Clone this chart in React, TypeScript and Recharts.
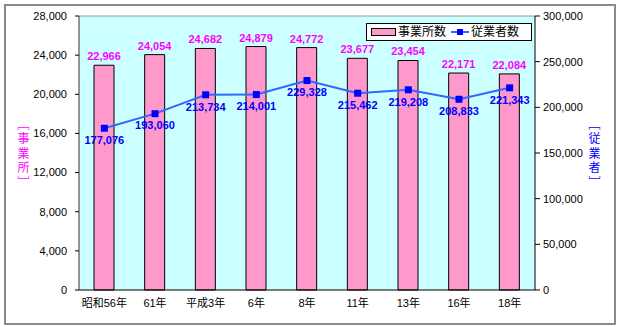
import React from 'react';
import { ComposedChart, Bar, Line, XAxis, YAxis, CartesianGrid, LabelList, ReferenceLine } from 'recharts';

const categories = ['昭和56年', '61年', '平成3年', '6年', '8年', '11年', '13年', '16年', '18年'];
const establishments = [22966, 24054, 24682, 24879, 24772, 23677, 23454, 22171, 22084];
const employees = [177076, 193060, 213734, 214001, 229328, 215462, 219208, 208833, 221343];
const leftTicks = [0, 4000, 8000, 12000, 16000, 20000, 24000, 28000];
const rightTicks = [0, 50000, 100000, 150000, 200000, 250000, 300000];
const seriesNames = ['事業所数', '従業者数'];
const leftTitle = '［事業所］';
const rightTitle = '［従業者］';

const data = categories.map((c, i) => ({ name: c, est: establishments[i], emp: employees[i] }));

const FONT = "'Liberation Sans', 'Noto Sans CJK JP', sans-serif";
const fmt = (v: any) => Number(v).toLocaleString('en-US');

const LegendBox = () => (
  <div style={{ position: 'absolute', left: 366, top: 23, width: 166, height: 18, boxSizing: 'border-box', border: '1px solid #000', background: '#fff', display: 'flex', alignItems: 'center', fontFamily: FONT, fontSize: 12, color: '#000', lineHeight: '14px' }}>
    <div style={{ width: 25, height: 8, boxSizing: 'border-box', border: '1px solid #000', background: '#ff99cc', marginLeft: 4, marginRight: 2 }} />
    <span>{seriesNames[0]}</span>
    <svg width={18} height={10} style={{ marginLeft: 5, marginRight: 2 }}>
      <line x1={0} y1={5} x2={18} y2={5} stroke="#3366ff" strokeWidth={2} />
      <rect x={6} y={2} width={6} height={6} fill="#0000ff" />
    </svg>
    <span>{seriesNames[1]}</span>
  </div>
);

const VerticalTitle = ({ text, left, color }: { text: string; left: number; color: string }) => (
  <div style={{ position: 'absolute', left, top: 118, width: 16, writingMode: 'vertical-rl', textOrientation: 'upright' as any, fontFamily: "'Noto Sans CJK JP', sans-serif", fontSize: 12, lineHeight: '16px', letterSpacing: 2.5, color }}>
    {text}
  </div>
);

const Square = (props: any) => {
  const { cx, cy } = props;
  return <rect x={cx - 3.5} y={cy - 3.5} width={7} height={7} fill="#0000ff" />;
};

export default function App() {
  return (
    <div style={{ position: 'absolute', left: 0, top: 0, width: 620, height: 327, background: '#fff' }}>
      <div style={{ position: 'absolute', left: 4, top: 4, width: 612, height: 321, boxSizing: 'border-box', border: '2px solid #8a8a8a' }} />
      <div style={{ position: 'absolute', left: 0, top: 0 }}>
        <ComposedChart width={620} height={327} data={data} margin={{ top: 16, right: 25, bottom: 17, left: 19 }} barCategoryGap={0}>
          <CartesianGrid fill="#ccffff" horizontal={false} vertical={false} />
          <XAxis dataKey="name" tickLine={false} tickSize={0} tickMargin={9} axisLine={{ stroke: '#000' }} height={20} interval={0}
            tick={{ fontFamily: FONT, fontSize: 11, fill: '#000' }} />
          <YAxis yAxisId="l" domain={[0, 28000]} ticks={leftTicks} tickFormatter={fmt} width={60} tickSize={4} tickMargin={8}
            axisLine={{ stroke: '#333' }} tickLine={{ stroke: '#000' }} tick={{ fontFamily: FONT, fontSize: 11, fill: '#000' }} />
          <YAxis yAxisId="r" orientation="right" domain={[0, 300000]} ticks={rightTicks} tickFormatter={fmt} width={60} tickSize={5} tickMargin={3}
            axisLine={{ stroke: '#000' }} tickLine={{ stroke: '#000' }} tick={{ fontFamily: FONT, fontSize: 11, fill: '#000' }} />
          <ReferenceLine yAxisId="l" y={28000} stroke="#999" />
          <Bar yAxisId="l" dataKey="est" name={seriesNames[0]} fill="#ff99cc" stroke="#000" strokeWidth={1} barSize={20} isAnimationActive={false}>
            <LabelList dataKey="est" position="top" offset={5} formatter={fmt} fill="#ff00ff" fontFamily={FONT} fontSize={11} fontWeight="bold" />
          </Bar>
          <Line yAxisId="r" dataKey="emp" name={seriesNames[1]} stroke="#3366ff" strokeWidth={2} dot={<Square />} activeDot={false} type="linear" isAnimationActive={false}>
            <LabelList dataKey="emp" position="bottom" offset={8} formatter={fmt} fill="#0000ff" fontFamily={FONT} fontSize={11} fontWeight="bold" />
          </Line>
        </ComposedChart>
      </div>
      <LegendBox />
      <VerticalTitle text={leftTitle} left={15} color="#ff00ff" />
      <VerticalTitle text={rightTitle} left={586} color="#0000ff" />
    </div>
  );
}
